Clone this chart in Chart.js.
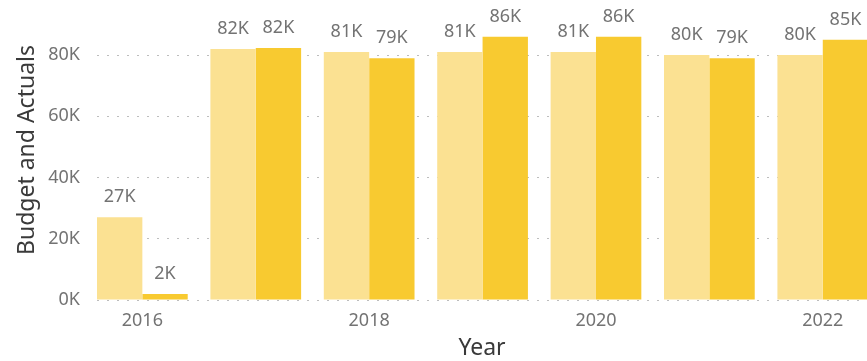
<!DOCTYPE html>
<html>
<head>
<meta charset="utf-8">
<script src="https://cdn.jsdelivr.net/npm/chart.js@4"></script>
<style>
  html, body { margin: 0; padding: 0; background: #fff; overflow: hidden; }
  #wrap { width: 867px; height: 361px; position: relative; }
</style>
</head>
<body>
<div id="wrap"><canvas id="chart"></canvas></div>
<script>
const years = [2016, 2017, 2018, 2019, 2020, 2021, 2022];
const budget = [27000, 82000, 81000, 81000, 81000, 80000, 80000];
const actuals = [2000, 82300, 79000, 86000, 86000, 79000, 85000];
const yTicks = [0, 20000, 40000, 60000, 80000];
const xTicks = [2016, 2018, 2020, 2022];

const FONT = "'Noto Sans', 'DejaVu Sans', sans-serif";

function kLabel(v) {
  return Math.round(v / 1000) + 'K';
}

// draws the value above each bar
const valueLabels = {
  id: 'valueLabels',
  afterDatasetsDraw(chart) {
    const ctx = chart.ctx;
    ctx.save();
    ctx.font = '18px ' + FONT;
    ctx.fillStyle = '#737373';
    ctx.textAlign = 'center';
    ctx.textBaseline = 'bottom';
    chart.data.datasets.forEach((ds, i) => {
      chart.getDatasetMeta(i).data.forEach((bar, j) => {
        ctx.fillText(kLabel(ds.data[j].y), bar.x, bar.y - 11);
      });
    });
    ctx.restore();
  }
};

new Chart(document.getElementById('chart'), {
  type: 'bar',
  data: {
    datasets: [
      {
        label: 'Budget',
        data: years.map((x, i) => ({x: x, y: budget[i]})),
        backgroundColor: '#fbe192'
      },
      {
        label: 'Actuals',
        data: years.map((x, i) => ({x: x, y: actuals[i]})),
        backgroundColor: '#f8ca30'
      }
    ]
  },
  options: {
    responsive: true,
    maintainAspectRatio: false,
    animation: false,
    layout: {padding: 0},
    plugins: {
      legend: {display: false},
      tooltip: {enabled: false}
    },
    datasets: {
      bar: {categoryPercentage: 0.8, barPercentage: 1}
    },
    scales: {
      x: {
        type: 'linear',
        offset: false,
        min: 2015.6,
        max: 2022.39,
        border: {display: false},
        grid: {display: false, drawTicks: false},
        afterBuildTicks(scale) {
          scale.ticks = xTicks.map(v => ({value: v}));
        },
        afterFit(scale) {
          scale.height = 61;
          scale.paddingLeft = 0;
          scale.paddingRight = 0;
        },
        ticks: {
          padding: 10,
          color: '#737373',
          font: {family: FONT, size: 18},
          callback: v => String(v)
        },
        title: {
          display: true,
          text: 'Year',
          color: '#3a3a3a',
          font: {family: FONT, size: 23, lineHeight: 1.05},
          padding: {top: 0, bottom: 0}
        }
      },
      y: {
        min: 0,
        max: 98000,
        border: {display: false, dash: [2, 8]},
        afterBuildTicks(scale) {
          scale.ticks = yTicks.map(v => ({value: v}));
        },
        afterFit(scale) {
          scale.width = 97;
          scale.paddingTop = 0;
          scale.paddingBottom = 0;
        },
        grid: {
          drawTicks: false,
          color: '#bdbdbd',
          lineWidth: 1
        },
        ticks: {
          padding: 17,
          color: '#737373',
          font: {family: FONT, size: 18},
          callback: v => kLabel(v)
        },
        title: {
          display: true,
          text: 'Budget and Actuals',
          color: '#3a3a3a',
          font: {family: FONT, size: 23},
          padding: {top: 14, bottom: 0}
        }
      }
    }
  },
  plugins: [valueLabels]
});
</script>
</body>
</html>
